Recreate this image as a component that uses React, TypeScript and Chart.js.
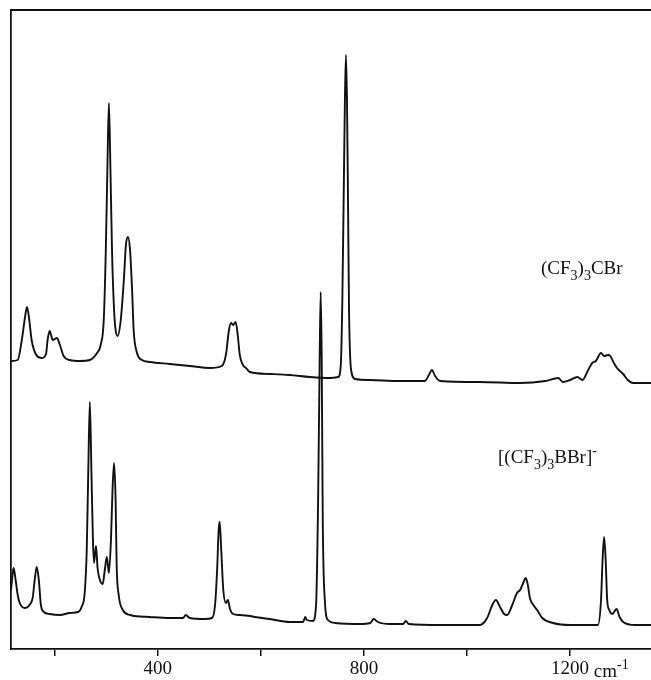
import { useEffect, useRef } from 'react';
import { Chart, registerables } from 'chart.js';

Chart.register(...registerables);

// ---- data (Raman shift in cm-1, intensity in arbitrary units, spectra offset) ----
const upperWavenumber = [115, 128, 136, 142, 146, 150, 155, 163, 175, 183, 186, 190, 196, 204, 210, 217, 229, 249, 268, 282, 289, 295, 299, 302, 305, 308, 311, 315, 318, 322, 328, 334, 338, 342, 346, 350, 353, 359, 369, 384, 423, 462, 501, 524, 532, 538, 542, 546, 551, 555, 559, 565, 571, 579, 617, 656, 695, 734, 750, 755, 758, 761, 763, 765, 767, 769, 771, 775, 783, 812, 870, 918, 926, 932, 938, 948, 1025, 1103, 1152, 1177, 1186, 1200, 1214, 1224, 1235, 1243, 1250, 1260, 1266, 1274, 1278, 1285, 1291, 1303, 1312, 1322, 1357];
const upperIntensity = [288, 289, 309, 331, 342, 331, 309, 295, 291, 295, 309, 318, 309, 311, 304, 293, 289, 288, 289, 296, 304, 329, 399, 479, 546, 479, 399, 339, 319, 313, 329, 369, 404, 412, 399, 359, 319, 297, 289, 287, 285, 283, 281, 283, 294, 319, 326, 324, 327, 314, 294, 284, 281, 277, 275, 274, 272, 271, 272, 284, 349, 469, 549, 594, 549, 449, 339, 279, 270, 269, 268, 268, 274, 279, 273, 268, 267, 266, 268, 271, 267, 269, 272, 269, 279, 286, 288, 296, 293, 294, 293, 286, 281, 275, 269, 266, 266];

const lowerWavenumber = [115, 118, 120, 124, 128, 132, 142, 151, 157, 161, 165, 169, 173, 179, 190, 210, 229, 245, 252, 258, 262, 265, 268, 271, 274, 276, 280, 283, 289, 293, 297, 301, 305, 309, 312, 315, 318, 320, 324, 332, 346, 384, 423, 449, 454, 462, 491, 505, 511, 515, 518, 520, 523, 527, 532, 536, 540, 546, 559, 579, 588, 617, 656, 682, 686, 689, 701, 707, 711, 714, 716, 718, 720, 724, 730, 744, 792, 812, 819, 827, 850, 876, 881, 887, 948, 1025, 1039, 1049, 1056, 1064, 1072, 1078, 1087, 1097, 1103, 1109, 1114, 1118, 1122, 1130, 1136, 1146, 1167, 1200, 1254, 1260, 1263, 1266, 1269, 1272, 1276, 1282, 1290, 1296, 1303, 1326, 1357];
const lowerIntensity = [59, 74, 81, 69, 54, 46, 41, 44, 51, 69, 82, 69, 44, 37, 35, 34, 36, 37, 42, 56, 99, 179, 247, 179, 109, 86, 103, 81, 67, 65, 79, 92, 76, 109, 159, 186, 149, 84, 54, 39, 34, 32, 31, 31, 34, 31, 30, 31, 44, 79, 119, 127, 99, 59, 46, 49, 40, 35, 34, 33, 32, 30, 27, 27, 32, 29, 28, 44, 149, 289, 357, 289, 129, 49, 29, 26, 25, 26, 30, 27, 25, 25, 28, 25, 24, 24, 31, 44, 49, 42, 35, 34, 43, 56, 59, 66, 71, 64, 51, 43, 39, 31, 26, 24, 24, 49, 89, 112, 89, 49, 39, 35, 40, 32, 27, 24, 24];

const xTickValues = [200, 400, 600, 800, 1000, 1200];
const xLabeledTicks = [400, 800, 1200];
const xUnit = 'cm';
const xUnitExp = '-1';
const upperLabel = [['(CF', 'n'], ['3', 'sub'], [')', 'n'], ['3', 'sub'], ['CBr', 'n']];
const lowerLabel = [['[(CF', 'n'], ['3', 'sub'], [')', 'n'], ['3', 'sub'], ['BBr]', 'n'], ['-', 'sup']];

const FONT = '"Liberation Serif", "Times New Roman", serif';
const INK = '#111111';

function drawRich(ctx: CanvasRenderingContext2D, parts: string[][], x: number, y: number, size: number) {
  let cx = x;
  ctx.textBaseline = 'alphabetic';
  ctx.textAlign = 'left';
  for (const [t, mode] of parts) {
    const s = mode === 'n' ? size : Math.round(size * 0.74);
    const dy = mode === 'sub' ? size * 0.3 : mode === 'sup' ? -size * 0.42 : 0;
    ctx.font = `${s}px ${FONT}`;
    ctx.fillText(t, cx, y + dy);
    cx += ctx.measureText(t).width;
  }
}

const textPlugin = {
  id: 'textPlugin',
  afterDraw(chart: any) {
    const { ctx, chartArea, scales } = chart;
    ctx.save();
    ctx.fillStyle = INK;
    // top frame line
    ctx.strokeStyle = INK;
    ctx.lineWidth = 1.8;
    ctx.beginPath();
    ctx.moveTo(chartArea.left, chartArea.top);
    ctx.lineTo(chartArea.right, chartArea.top);
    ctx.stroke();
    // series labels
    drawRich(ctx, upperLabel, 541, 274, 19);
    drawRich(ctx, lowerLabel, 498, 463, 19);
    // unit after last tick label
    const xs = scales.x;
    const px = xs.getPixelForValue(1200);
    ctx.font = `19px ${FONT}`;
    const w = ctx.measureText('1200').width;
    const unitParts = [[' ' + xUnit, 'n'], [xUnitExp, 'sup']];
    drawRich(ctx, unitParts, px + w / 2, 677, 19);
    ctx.restore();
  },
};

export default function App() {
  const ref = useRef<HTMLCanvasElement>(null);
  useEffect(() => {
    document.body.style.margin = '0';
    const upper = upperWavenumber.map((x, i) => ({ x, y: upperIntensity[i] }));
    const lower = lowerWavenumber.map((x, i) => ({ x, y: lowerIntensity[i] }));
    const chart = new Chart(ref.current as HTMLCanvasElement, {
      type: 'line',
      data: {
        datasets: [
          { data: upper, borderColor: INK, borderWidth: 1.9, pointRadius: 0, fill: false, cubicInterpolationMode: 'monotone' },
          { data: lower, borderColor: INK, borderWidth: 1.9, pointRadius: 0, fill: false, cubicInterpolationMode: 'monotone' },
        ],
      } as any,
      options: {
        responsive: false,
        animation: false,
        layout: { padding: { left: 11, top: 10, right: 0, bottom: 0 } },
        plugins: { legend: { display: false }, tooltip: { enabled: false } },
        scales: {
          x: {
            type: 'linear',
            min: 115,
            max: 1357,
            afterBuildTicks: (s: any) => { s.ticks = xTickValues.map((v) => ({ value: v })); },
            afterFit: (s: any) => { s.height = 31; },
            grid: { display: true, drawOnChartArea: false, drawTicks: true, tickLength: 7, color: INK, lineWidth: 1.5 },
            border: { display: true, color: INK, width: 1.8 },
            ticks: {
              color: INK,
              font: { family: FONT, size: 19 },
              padding: 2,
              maxRotation: 0,
              autoSkip: false,
              callback: (v: any) => (xLabeledTicks.includes(Number(v)) ? String(v) : ''),
            },
          },
          y: {
            min: 0,
            max: 639,
            afterFit: (s: any) => { s.width = 0; },
            grid: { display: false },
            ticks: { display: false },
            border: { display: true, color: INK, width: 1.8 },
          },
        },
      } as any,
      plugins: [textPlugin],
    });
    return () => chart.destroy();
  }, []);
  return (
    <div style={{ position: 'absolute', left: 0, top: 0, width: 651, height: 680 }}>
      <canvas ref={ref} width={651} height={680} style={{ display: 'block', width: 651, height: 680 }} />
    </div>
  );
}
